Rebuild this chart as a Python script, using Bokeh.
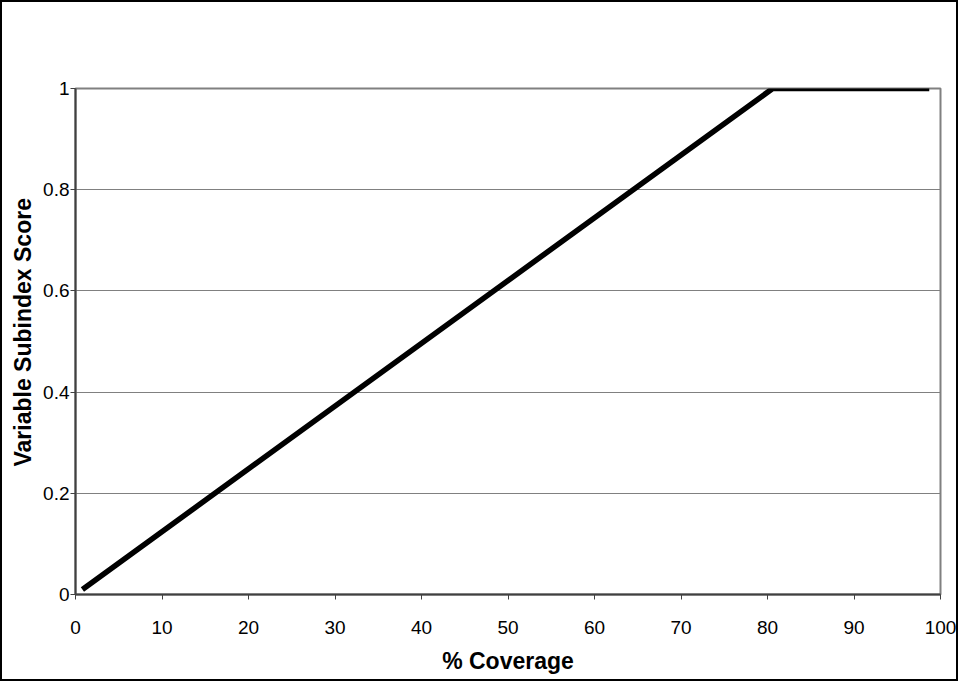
from bokeh.plotting import figure
from bokeh.models import Range1d, FixedTicker, Title
from bokeh.embed import file_html
from bokeh.resources import INLINE

# Data
coverage = [0.8, 80.6, 98.7]
score = [0.01, 1.0, 1.0]
x_ticks = [0, 10, 20, 30, 40, 50, 60, 70, 80, 90, 100]
y_ticks = [0, 0.2, 0.4, 0.6, 0.8, 1.0]
y_tick_labels = ["0", "0.2", "0.4", "0.6", "0.8", "1"]
x_title = "% Coverage"
y_title = "Variable Subindex Score"

FONT = "Liberation Sans"

p = figure(
    frame_width=865, frame_height=506,
    output_backend="svg", toolbar_location=None,
    x_range=Range1d(0, 100), y_range=Range1d(0, 1),
    min_border_left=73, min_border_right=16, min_border_top=86, min_border_bottom=85,
)
p.styles = {"border": "2px solid black"}
p.background_fill_color = "white"
p.border_fill_color = "white"
p.outline_line_color = "#808080"
p.outline_line_width = 2

p.line(coverage, score, line_color="black", line_width=5.5, line_join="miter", line_cap="butt")

# grid
p.xgrid.visible = False
p.ygrid.ticker = FixedTicker(ticks=y_ticks)
p.ygrid.grid_line_color = "#808080"
p.ygrid.grid_line_width = 1

# axes
p.xaxis.ticker = FixedTicker(ticks=x_ticks)
p.yaxis.ticker = FixedTicker(ticks=y_ticks)
p.yaxis.major_label_overrides = {t: l for t, l in zip(y_ticks, y_tick_labels)}
for ax in (p.xaxis, p.yaxis):
    ax.axis_line_color = "#404040"
    ax.axis_line_width = 2
    ax.major_tick_line_color = "#404040"
    ax.major_tick_line_width = 1
    ax.major_tick_in = 0
    ax.major_tick_out = 5
    ax.minor_tick_line_color = None
    ax.major_label_text_font = FONT
    ax.major_label_text_font_size = "19px"
    ax.major_label_text_color = "black"
p.xaxis.major_label_standoff = 21
p.yaxis.major_label_standoff = 1

# x title as axis label
p.xaxis.axis_label = x_title
p.xaxis.axis_label_standoff = 11
p.xaxis.axis_label_text_font = FONT
p.xaxis.axis_label_text_font_size = "23px"
p.xaxis.axis_label_text_font_style = "bold"
p.xaxis.axis_label_text_color = "black"
p.xaxis.axis_label_text_line_height = 0.7

# y title as a side title (allows an offset along the axis)
p.add_layout(Title(text=y_title, align="left", offset=128, standoff=10,
                   text_font=FONT, text_font_size="23px", text_font_style="bold",
                   text_line_height=0.7, text_color="black"), "left")

open("out.html", "w").write(file_html(p, INLINE))
